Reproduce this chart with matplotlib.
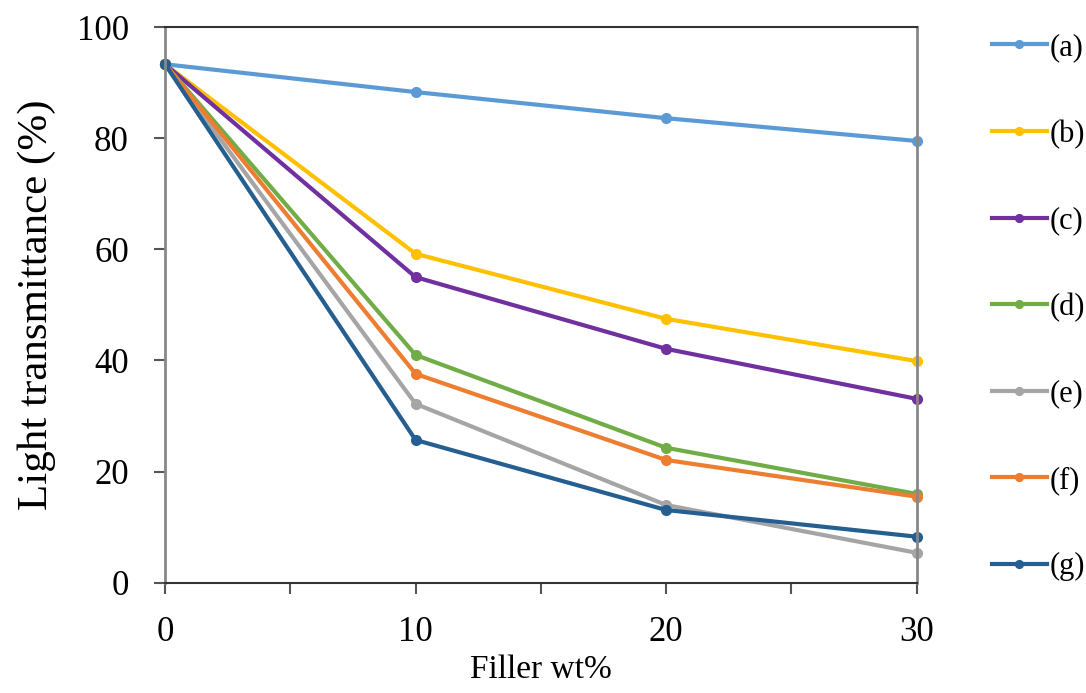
import matplotlib
matplotlib.use("Agg")
import matplotlib.pyplot as plt
from matplotlib.ticker import MultipleLocator

plt.rcParams['font.family'] = ['Liberation Serif', 'DejaVu Serif']

filler = [0, 10, 20, 30]
labels = ['(a)', '(b)', '(c)', '(d)', '(e)', '(f)', '(g)']
trans_a = [93.3, 88.3, 83.6, 79.5]
trans_b = [93.3, 59.2, 47.5, 39.9]
trans_c = [93.3, 55.0, 42.1, 33.1]
trans_d = [93.3, 41.0, 24.3, 16.0]
trans_e = [93.3, 32.2, 14.0, 5.4]
trans_f = [93.3, 37.6, 22.1, 15.5]
trans_g = [93.3, 25.7, 13.1, 8.3]
colors = ['#5B9BD5', '#FFC000', '#7030A0', '#70AD47', '#A5A5A5', '#ED7D31', '#255E91']

series = [trans_a, trans_b, trans_c, trans_d, trans_e, trans_f, trans_g]

fig = plt.figure(figsize=(10.86, 6.93), dpi=100)
ax = fig.add_axes([0.152, 0.159, 0.692, 0.802])

for vals, lab, col in zip(series, labels, colors):
    ax.plot(filler, vals, color=col, lw=3, marker='o', ms=7, label=lab, clip_on=False)

ax.set_xlim(0, 30)
ax.set_ylim(0, 100)
ax.xaxis.set_major_locator(MultipleLocator(10))
ax.xaxis.set_minor_locator(MultipleLocator(5))
ax.yaxis.set_major_locator(MultipleLocator(20))
ax.tick_params(axis='both', which='both', labelsize=25, width=1.5, color='#555555',
               direction='out', length=8)
ax.tick_params(axis='x', pad=16)
ax.tick_params(axis='y', pad=18)
for s in ['left', 'right']:
    ax.spines[s].set_color('#888888')
    ax.spines[s].set_linewidth(2)
for s in ['top', 'bottom']:
    ax.spines[s].set_color('#333333')
    ax.spines[s].set_linewidth(1.5)

ax.set_xlabel('Filler wt%', fontsize=24, labelpad=4)
ax.set_ylabel('Light transmittance (%)', fontsize=31, labelpad=15)

fig.legend(loc='upper left', bbox_to_anchor=(0.888, 0.992), frameon=False,
           fontsize=22, labelspacing=1.88, handlelength=1.8, handletextpad=0.1,
           markerscale=0.8)

fig.savefig('out.png')
